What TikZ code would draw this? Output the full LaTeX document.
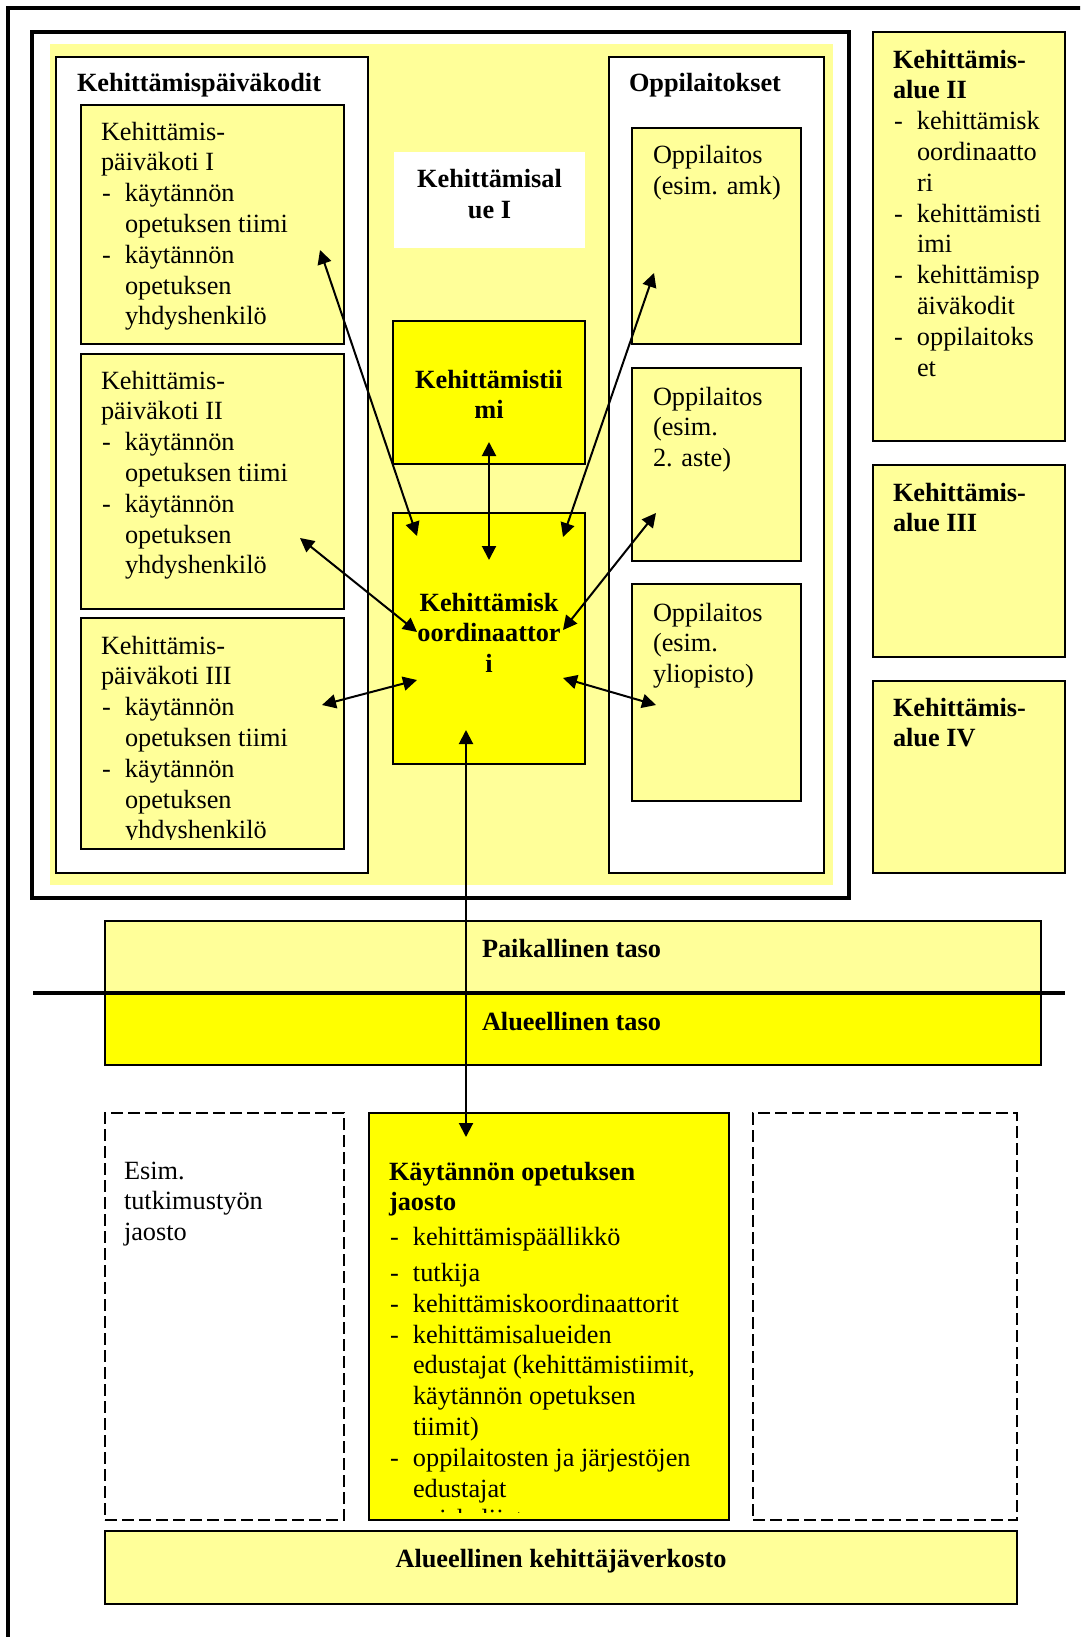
\documentclass[tikz,border=0pt]{standalone}
\usepackage{fontspec}
\setmainfont{Liberation Serif}
\usetikzlibrary{arrows.meta}

\definecolor{lyel}{HTML}{FFFF99}
\definecolor{yel}{HTML}{FFFF00}

\newcommand{\fl}{\rule{0pt}{24pt}}
\newcommand{\itm}[1]{\makebox[24pt][l]{\hspace{1pt}-}#1}
\newcommand{\cnt}[1]{\hspace*{24pt}#1}

\tikzset{
  box/.style={draw, line width=2pt, inner sep=0pt, outer sep=0pt, anchor=north west},
  lbox/.style={box, fill=lyel},
  ybox/.style={box, fill=yel},
  wbox/.style={box, fill=white},
  dbox/.style={box, dash pattern=on 12pt off 5pt},
  txt/.style={inner sep=0pt, outer sep=0pt, anchor=north west, align=left,
    font=\fontsize{26.3}{30.8}\selectfont},
  btxt/.style={txt, font=\fontsize{26.3}{30.8}\selectfont\bfseries},
  ctxt/.style={btxt, anchor=north, align=center},
  arr/.style={line width=2pt, {Triangle[length=14pt,width=14pt]}-{Triangle[length=14pt,width=14pt]}}
}

\begin{document}
\begin{tikzpicture}[x=1pt,y=-1pt]
  \clip (0,0) rectangle (1080,1637);
  \fill[white] (0,0) rectangle (1080,1637);

  % outer frame and local level frame
  \draw[line width=4pt] (8,8) rectangle (1200,1800);
  \draw[line width=3.5pt] (32,32) rectangle (849,898);
  \fill[lyel] (50,44) rectangle (833,885);

  % kehittamispaivakodit
  \node[wbox, minimum width=312, minimum height=816] (pkd) at (56,57) {};
  \node[btxt] (pkdt) at ([shift={(21,11)}]pkd.north west) {\fl Kehittämispäiväkodit};
  \node[lbox, minimum width=263, minimum height=239] (pk1) at (81,105) {};
  \node[txt] (pk1t) at ([shift={(20,11)}]pk1.north west)
    {\fl Kehittämis-\\päiväkoti I\\\itm{käytännön}\\\cnt{opetuksen tiimi}\\\itm{käytännön}\\\cnt{opetuksen}\\\cnt{yhdyshenkilö}};
  \node[lbox, minimum width=263, minimum height=255] (pk2) at (81,354) {};
  \node[txt] (pk2t) at ([shift={(20,11)}]pk2.north west)
    {\fl Kehittämis-\\päiväkoti II\\\itm{käytännön}\\\cnt{opetuksen tiimi}\\\itm{käytännön}\\\cnt{opetuksen}\\\cnt{yhdyshenkilö}};
  \node[lbox, minimum width=263, minimum height=231] (pk3) at (81,618) {};
  \begin{scope}
    \clip (pk3.north west) rectangle ([yshift=10pt]pk3.south east);
    \node[txt] (pk3t) at ([shift={(20,12)}]pk3.north west)
      {\fl Kehittämis-\\päiväkoti III\\\itm{käytännön}\\\cnt{opetuksen tiimi}\\\itm{käytännön}\\\cnt{opetuksen}\\\cnt{yhdyshenkilö}};
  \end{scope}

  % kehittamisalue I
  \node[box, draw=none, fill=white, minimum width=191, minimum height=96] (al1) at (394,152) {};
  \node[ctxt] (al1t) at ([shift={(0,12)}]al1.north) {\fl Kehittämisal\\ue I};
  \node[ybox, minimum width=192, minimum height=143] (tiimi) at (393,321) {};
  \node[ctxt] (tiimit) at ([shift={(0,43)}]tiimi.north) {\fl Kehittämistii\\mi};
  \node[ybox, minimum width=192, minimum height=251] (koord) at (393,513) {};
  \node[ctxt] (koordt) at ([shift={(0,74)}]koord.north) {\fl Kehittämisk\\oordinaattor\\i};

  % oppilaitokset
  \node[wbox, minimum width=215, minimum height=816] (opl) at (609,57) {};
  \node[btxt] (oplt) at ([shift={(20,11)}]opl.north west) {\fl Oppilaitokset};
  \node[lbox, minimum width=169, minimum height=216] (ol1) at (632,128) {};
  \node[txt] (ol1t) at ([shift={(21,12)}]ol1.north west) {\fl Oppilaitos\\(esim. amk)};
  \node[lbox, minimum width=169, minimum height=193] (ol2) at (632,368) {};
  \node[txt] (ol2t) at ([shift={(21,13)}]ol2.north west) {\fl Oppilaitos\\(esim.\\2. aste)};
  \node[lbox, minimum width=169, minimum height=217] (ol3) at (632,584) {};
  \node[txt] (ol3t) at ([shift={(21,13)}]ol3.north west) {\fl Oppilaitos\\(esim.\\yliopisto)};

  % muut kehittamisalueet
  \node[lbox, minimum width=192, minimum height=409] (al2) at (873,32) {};
  \node[txt] (al2t) at ([shift={(20,12)}]al2.north west)
    {\fl\textbf{Kehittämis-}\\\textbf{alue II}\\\itm{kehittämisk}\\\cnt{oordinaatto}\\\cnt{ri}\\\itm{kehittämisti}\\\cnt{imi}\\\itm{kehittämisp}\\\cnt{äiväkodit}\\\itm{oppilaitoks}\\\cnt{et}};
  \node[lbox, minimum width=192, minimum height=192] (al3) at (873,465) {};
  \node[btxt] (al3t) at ([shift={(20,12)}]al3.north west) {\fl Kehittämis-\\alue III};
  \node[lbox, minimum width=192, minimum height=192] (al4) at (873,681) {};
  \node[btxt] (al4t) at ([shift={(20,11)}]al4.north west) {\fl Kehittämis-\\alue IV};

  % tasot
  \node[lbox, minimum width=936, minimum height=72] (paik) at (105,921) {};
  \node[btxt] (paikt) at ([shift={(377,12)}]paik.north west) {\fl Paikallinen taso};
  \node[ybox, minimum width=936, minimum height=72] (alueel) at (105,993) {};
  \node[btxt] (alueelt) at ([shift={(377,13)}]alueel.north west) {\fl Alueellinen taso};
  \draw[line width=4pt] (33,993) -- (1065,993);

  % jaostot
  \node[dbox, minimum width=239, minimum height=407] (tutk) at (105,1113) {};
  \node[txt] (tutkt) at ([shift={(19,42)}]tutk.north west) {\fl Esim.\\tutkimustyön\\jaosto};
  \node[ybox, minimum width=360, minimum height=407] (jaosto) at (369,1113) {};
  \begin{scope}
    \clip (jaosto.north west) rectangle ([yshift=8pt]jaosto.south east);
    \node[txt] (jaostot) at ([shift={(20,43)}]jaosto.north west)
      {\fl\textbf{Käytännön opetuksen}\\\textbf{jaosto}\\[4pt]\itm{kehittämispäällikkö}\\[5pt]\itm{tutkija}\\\itm{kehittämiskoordinaattorit}\\\itm{kehittämisalueiden}\\\cnt{edustajat (kehittämistiimit,}\\\cnt{käytännön opetuksen}\\\cnt{tiimit)}\\\itm{oppilaitosten ja järjestöjen}\\\cnt{edustajat}\\\itm{opiskelijat}};
  \end{scope}
  \node[dbox, minimum width=264, minimum height=407] (tyhja) at (753,1113) {};
  \node[lbox, minimum width=912, minimum height=73] (verk) at (105,1531) {};
  \node[ctxt] (verkt) at ([shift={(0,12)}]verk.north) {\fl Alueellinen kehittäjäverkosto};

  % nuolien paat
  \coordinate (p1) at (320,250);  \coordinate (k1) at (417,536);
  \coordinate (t1) at (489,442);  \coordinate (k2) at (489,560);
  \coordinate (o1) at (654,273);  \coordinate (k3) at (563,537);
  \coordinate (p2) at (300,538);  \coordinate (k4) at (417,632);
  \coordinate (o2) at (656,513);  \coordinate (k5) at (563,630);
  \coordinate (p3) at (322,705);  \coordinate (k6) at (417,680);
  \coordinate (o3) at (656,705);  \coordinate (k7) at (563,678);
  \coordinate (k8) at (466,730);  \coordinate (j1) at (466,1137);

  \draw[arr] (p1) -- (k1);
  \draw[arr] (t1) -- (k2);
  \draw[arr] (o1) -- (k3);
  \draw[arr] (p2) -- (k4);
  \draw[arr] (o2) -- (k5);
  \draw[arr] (p3) -- (k6);
  \draw[arr] (k7) -- (o3);
  \draw[arr] (k8) -- (j1);
\end{tikzpicture}
\end{document}
